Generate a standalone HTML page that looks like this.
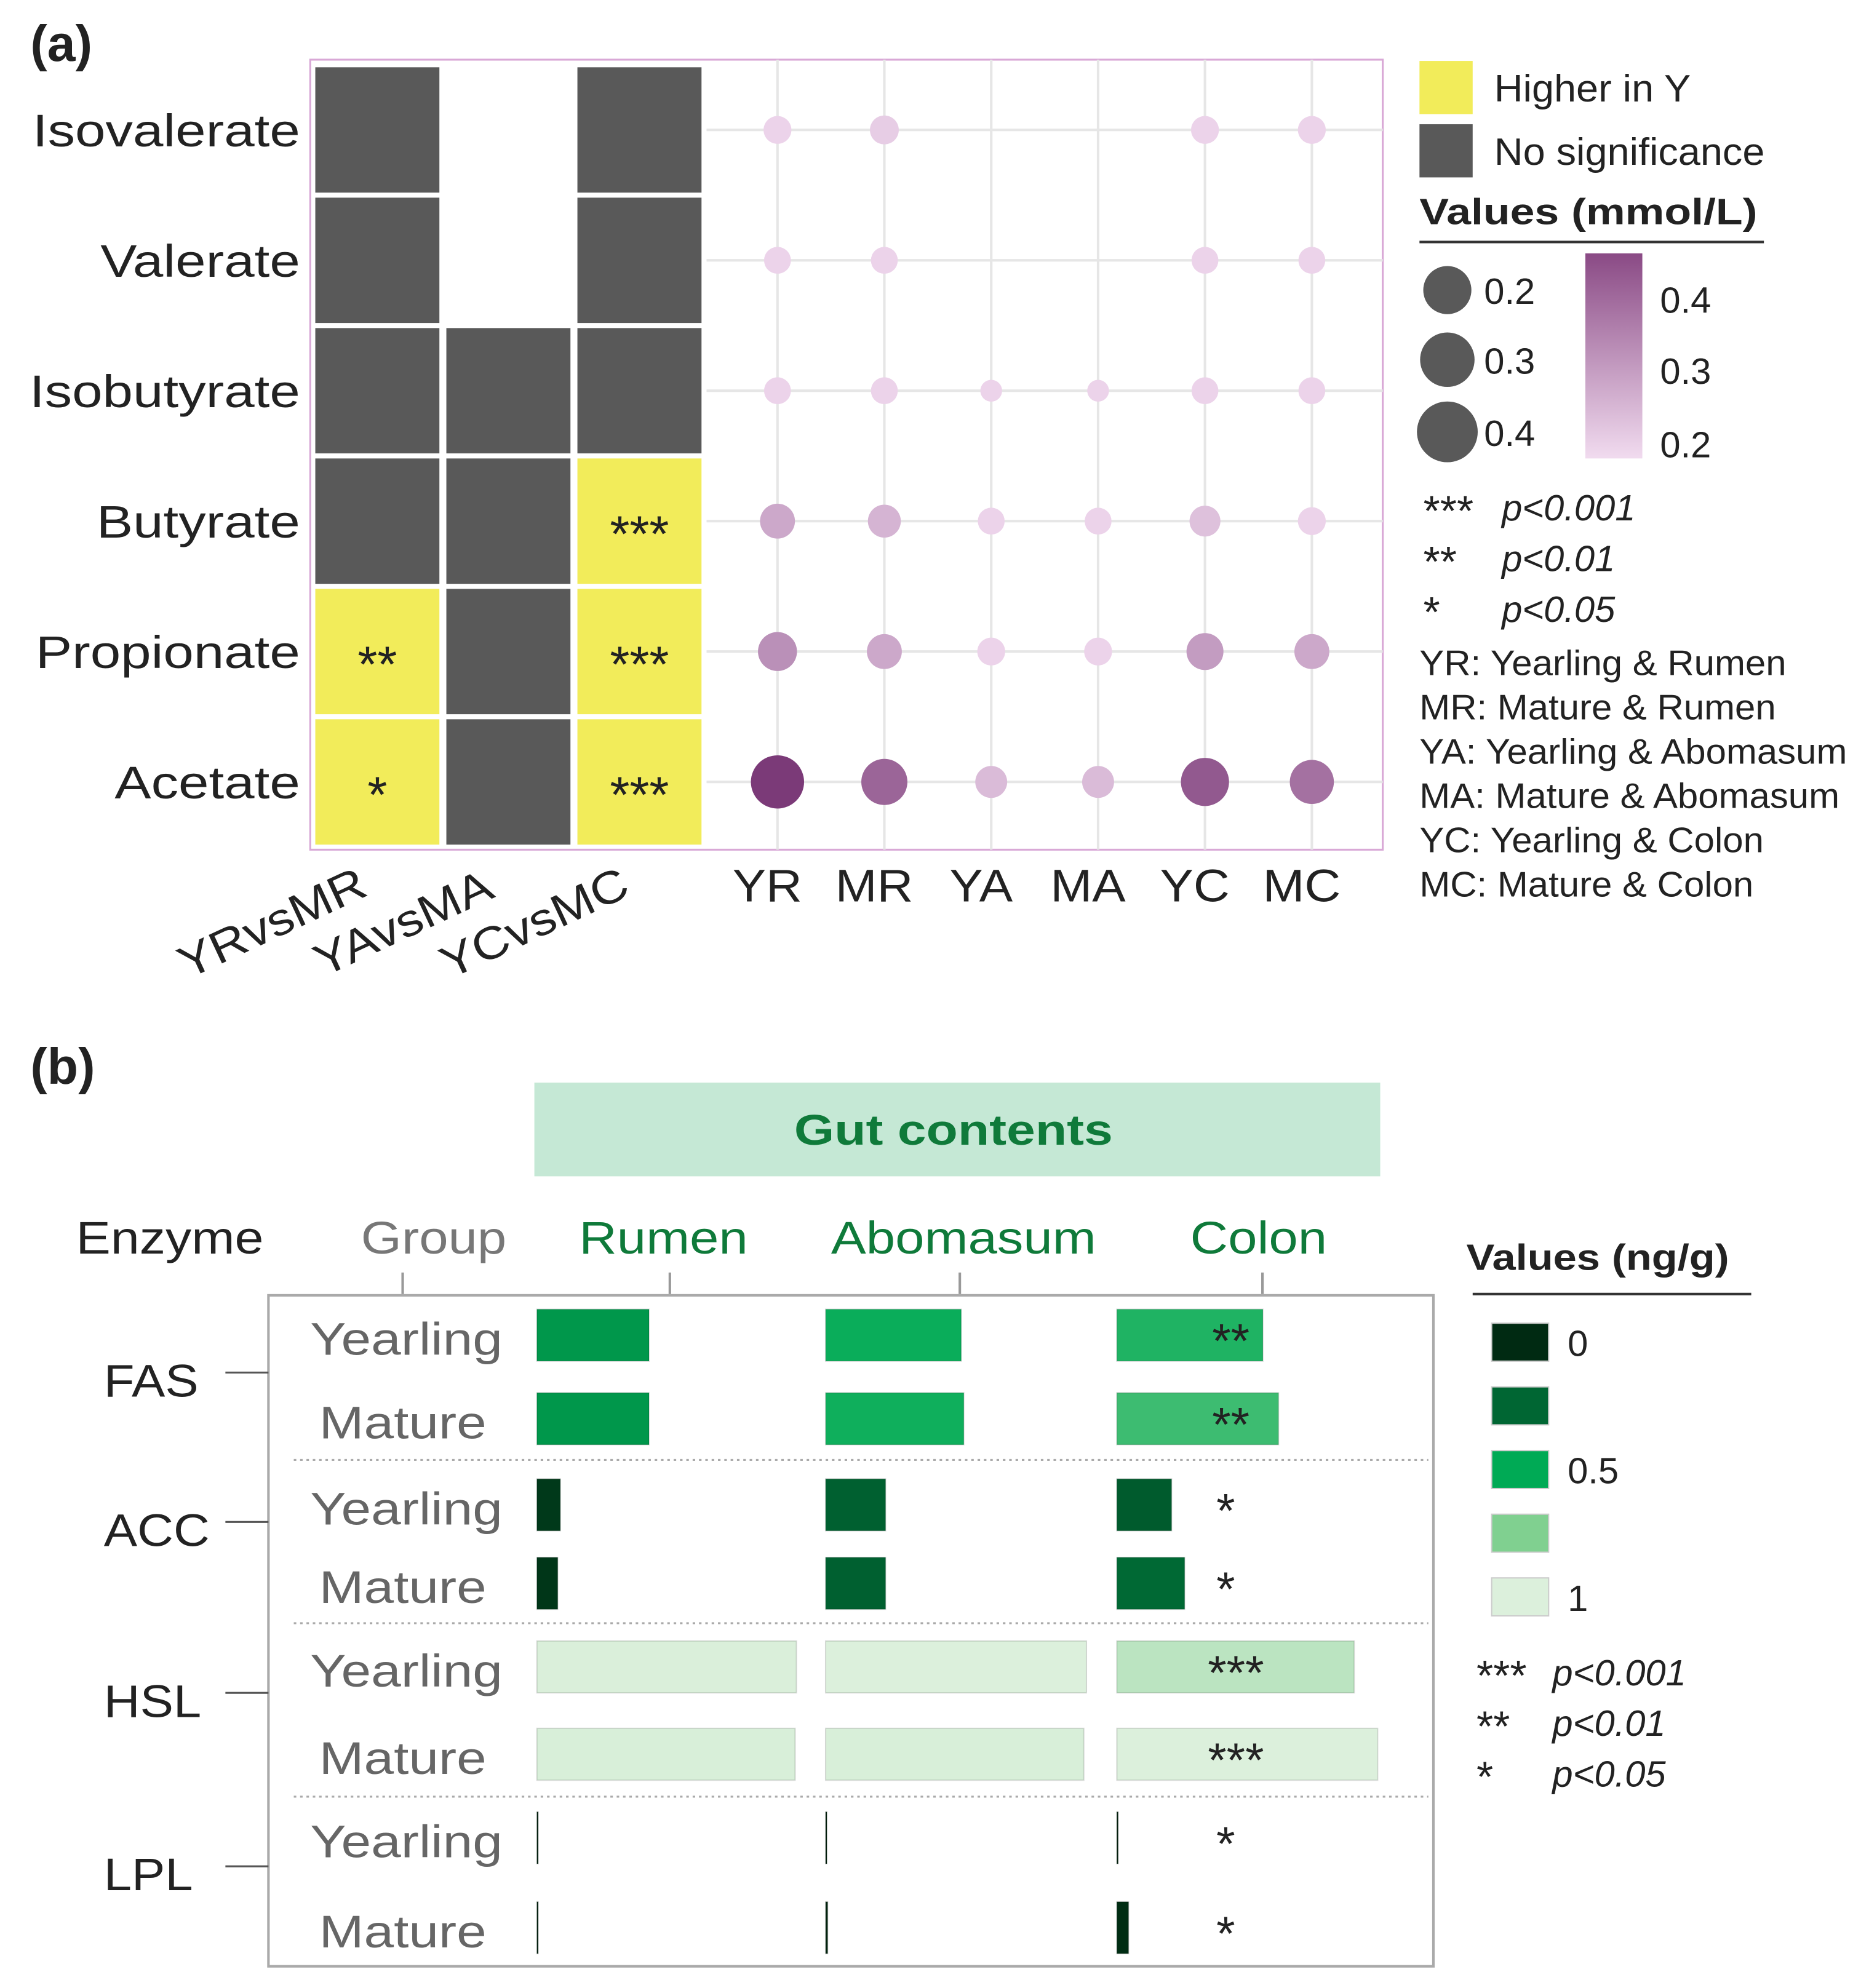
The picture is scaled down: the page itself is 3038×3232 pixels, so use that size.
<!DOCTYPE html>
<html><head><meta charset="utf-8"><style>
html,body{margin:0;padding:0;background:#fff}
svg{display:block}
text{font-family:"Liberation Sans",sans-serif;fill:#222}
</style></head><body>
<svg width="3038" height="3232" viewBox="0 0 1476 1570" xmlns="http://www.w3.org/2000/svg">
<g id="pa"></g>
<g id="pb"></g>
</svg>
<script>
// ---------- Panel (a) data ----------
const rowsA = ["Isovalerate","Valerate","Isobutyrate","Butyrate","Propionate","Acetate"];
const compCols = ["YRvsMR","YAvsMA","YCvsMC"];
// 0 = none, 1 = no significance, 2 = higher in Y
const compStatus = [[1,0,1],[1,0,1],[1,1,1],[1,1,2],[2,1,2],[2,1,2]];
const compStars = [["","",""],["","",""],["","",""],["","","***"],["**","","***"],["*","","***"]];
const dotCols = ["YR","MR","YA","MA","YC","MC"];
const dotVals = [
 [0.20,0.21,null,null,0.20,0.20],
 [0.19,0.19,null,null,0.19,0.19],
 [0.19,0.19,0.14,0.14,0.19,0.19],
 [0.27,0.25,0.19,0.19,0.23,0.20],
 [0.31,0.27,0.20,0.20,0.29,0.27],
 [0.45,0.38,0.24,0.24,0.40,0.36]];
// ---------- Panel (b) data ----------
const enzymes = ["FAS","ACC","HSL","LPL"];
const groups = ["Yearling","Mature"];
const sites = ["Rumen","Abomasum","Colon"];
const enzVals = [
 [[0.43,0.52,0.56],[0.43,0.53,0.62]],
 [[0.09,0.23,0.21],[0.08,0.23,0.26]],
 [[0.995,1.0,0.91],[0.99,0.99,1.0]],
 [[0.005,0.005,0.005],[0.005,0.008,0.045]]];
const enzStars = ["**","*","***","*"];

const NS="http://www.w3.org/2000/svg";
function mk(p,tag,a,txt){const e=document.createElementNS(NS,tag);for(const k in a)e.setAttribute(k,a[k]);if(txt!==undefined)e.textContent=txt;p.appendChild(e);return e;}
function lerpC(c1,c2,t){const a=[1,3,5].map(i=>parseInt(c1.substr(i,2),16)),b=[1,3,5].map(i=>parseInt(c2.substr(i,2),16));return "rgb("+a.map((v,i)=>Math.round(v+(b[i]-v)*t)).join(",")+")";}
function stretch(e,f){e.setAttribute('textLength',(e.getComputedTextLength()*f).toFixed(1));e.setAttribute('lengthAdjust','spacingAndGlyphs');}

// ---------- draw (a) ----------
const A=document.getElementById('pa');
let t=mk(A,'text',{x:24,y:48,'font-size':40,'font-weight':'bold'},'(a)');

let r=mk(A,'rect',{x:245,y:47,width:847,height:624,fill:'none',stroke:'#d9a8d6','stroke-width':1.5});

const rowY=i=>52+i*103;const rowH=101;
const compX=j=>248+j*103.5;
const dotX=j=>614+j*84.4;
const rowC=i=>rowY(i)+rowH/2;
for(let i=0;i<rowsA.length;i++){const l=mk(A,'line',{x1:558,x2:1092,y1:rowC(i),y2:rowC(i),stroke:'#e6e6e6','stroke-width':2});}
for(let j=0;j<dotCols.length;j++){const l=mk(A,'line',{x1:dotX(j),x2:dotX(j),y1:47,y2:671,stroke:'#e6e6e6','stroke-width':2});}
rowsA.forEach((n,i)=>{
  const lb=mk(A,'text',{x:237,y:rowC(i)+13,'font-size':36,'text-anchor':'end'},n);
  stretch(lb,1.2);
  
  compCols.forEach((c,j)=>{
    const s=compStatus[i][j];
    if(s){const c1=mk(A,'rect',{x:compX(j),y:rowY(i),width:100,height:rowH,fill:s===2?'#f2ec5a':'#595959',stroke:'#fff','stroke-width':2});
      }
    if(compStars[i][j]){const st=mk(A,'text',{x:compX(j)+50,y:rowC(i)+24,'font-size':40,'text-anchor':'middle'},compStars[i][j]);
      }
  });
  dotCols.forEach((c,j)=>{
    const v=dotVals[i][j];if(v==null)return;
    const tt=Math.max(0,Math.min(1,(v-0.2)/0.25));
    const d=mk(A,'circle',{cx:dotX(j),cy:rowC(i),r:3+40*v,fill:lerpC('#ecd3ea','#7b3a78',tt)});
    
  });
});
compCols.forEach((c,j)=>{const x=compX(j)-28,y=740;const l=mk(A,'text',{x:x,y:y,'font-size':36,'text-anchor':'middle',transform:`rotate(-25 ${x} ${y})`},c);
  stretch(l,1.12);
  });
dotCols.forEach((c,j)=>{const l=mk(A,'text',{x:dotX(j)-8,y:712,'font-size':36,'text-anchor':'middle'},c);
  stretch(l,1.1);
  });
// legend a
const LA=mk(A,'g',{});
[['#f2ec5a','Higher in Y',48],['#595959','No significance',98]].forEach(([c,s,y])=>{
 const q=mk(LA,'rect',{x:1121,y:y,width:42,height:42,fill:c});
 const tx=mk(LA,'text',{x:1180,y:y+32,'font-size':30},s);stretch(tx,1.05);});
t=mk(LA,'text',{x:1121,y:177,'font-size':29,'font-weight':'bold'},'Values (mmol/L)');stretch(t,1.2);
mk(LA,'line',{x1:1121,x2:1393,y1:191,y2:191,stroke:'#333','stroke-width':2});
[[0.2,229],[0.3,284],[0.4,341]].forEach(([v,y])=>{
 const c=mk(LA,'circle',{cx:1143,cy:y,r:19+(v-0.2)*25,fill:'#595959'});
 const tx=mk(LA,'text',{x:1172,y:y+11,'font-size':29},v.toFixed(1));});
const defs=mk(LA,'defs',{});const lg=mk(defs,'linearGradient',{id:'pg',x1:0,y1:0,x2:0,y2:1});
mk(lg,'stop',{offset:0,'stop-color':'#8a4a85'});mk(lg,'stop',{offset:1,'stop-color':'#f1dbef'});
t=mk(LA,'rect',{x:1252,y:200,width:45,height:162,fill:'url(#pg)'});
[['0.4',237],['0.3',293],['0.2',351]].forEach(([s,y])=>{const tx=mk(LA,'text',{x:1311,y:y+10,'font-size':29},s);});
[['***','p<0.001',401],['**','p<0.01',441],['*','p<0.05',481]].forEach(([s,p,y])=>{
 const a=mk(LA,'text',{x:1124,y:y+14,'font-size':34},s);
 const b=mk(LA,'text',{x:1186,y:y+10,'font-size':29,'font-style':'italic'},p);});
["YR: Yearling & Rumen","MR: Mature & Rumen","YA: Yearling & Abomasum","MA: Mature & Abomasum","YC: Yearling & Colon","MC: Mature & Colon"].forEach((s,i)=>{
 const a=mk(LA,'text',{x:1121,y:533+i*35,'font-size':28},s);stretch(a,1.04);});

// ---------- draw (b) ----------
const B=document.getElementById('pb');
t=mk(B,'text',{x:24,y:856,'font-size':40,'font-weight':'bold'},'(b)');
t=mk(B,'rect',{x:422,y:855,width:668,height:74,fill:'#c5e8d5'});
t=mk(B,'text',{x:753,y:904,'font-size':34,'font-weight':'bold','text-anchor':'middle',style:'fill:#0f7a3a'},'Gut contents');stretch(t,1.2);
t=mk(B,'text',{x:60,y:990,'font-size':36},'Enzyme');stretch(t,1.14);
t=mk(B,'text',{x:285,y:990,'font-size':36,style:'fill:#777'},'Group');stretch(t,1.15);
const siteX=[424,652,882];const siteLabX=[524,761,994];
sites.forEach((s,k)=>{const a=mk(B,'text',{x:siteLabX[k],y:990,'font-size':36,'text-anchor':'middle',style:'fill:#0f7a3a'},s);stretch(a,1.15);});
[318,529,758,997].forEach(x=>mk(B,'line',{x1:x,x2:x,y1:1005,y2:1022,stroke:'#999','stroke-width':2}));
t=mk(B,'rect',{x:212,y:1023,width:920,height:530,fill:'none',stroke:'#aaa','stroke-width':2});
const barTop=[[1034,1100],[1168,1230],[1296,1365],[1431,1502]];
const sepY=[1153,1282,1419];
sepY.forEach(y=>{const l=mk(B,'line',{x1:232,x2:1128,y1:y,y2:y,stroke:'#aaa','stroke-width':1.5,'stroke-dasharray':'2,3'});});
const xScale=v=>v*206;
const cStops=['#00200c','#006633','#00aa55','#80d090','#dcf0dc'];
function valColor(v){const p=Math.max(0,Math.min(1,v))*4;const i=Math.min(3,Math.floor(p));return lerpC(cStops[i],cStops[i+1],p-i);}
const enzLabY=[1090,1208,1343,1480];const starX=[972,968,976,968];
enzymes.forEach((e,i)=>{
  const a=mk(B,'text',{x:82,y:enzLabY[i]+13,'font-size':36},e);stretch(a,1.1);
  mk(B,'line',{x1:178,x2:212,y1:enzLabY[i]-6,y2:enzLabY[i]-6,stroke:'#555','stroke-width':1.5});
  groups.forEach((g,gi)=>{
    const y=barTop[i][gi];
    const gl=mk(B,'text',{x:gi?252:245,y:y+36,'font-size':36,style:'fill:#666'},g);stretch(gl,1.18);
    sites.forEach((s,k)=>{
      const v=enzVals[i][gi][k];
      const b=mk(B,'rect',{x:siteX[k],y:y,width:Math.max(1,xScale(v)),height:41,fill:valColor(v),stroke:'#00000022','stroke-width':1});
      
    });
    const st=mk(B,'text',{x:starX[i],y:y+38,'font-size':38,'text-anchor':'middle'},enzStars[i]);
  });
});
// legend b
const LB=mk(B,'g',{});
t=mk(LB,'text',{x:1158,y:1003,'font-size':29,'font-weight':'bold'},'Values (ng/g)');stretch(t,1.15);
mk(LB,'line',{x1:1163,x2:1383,y1:1022,y2:1022,stroke:'#333','stroke-width':2});
const legLabs=['0','','0.5','','1'];
cStops.forEach((c,i)=>{const y=1045+i*50.3;
 const q=mk(LB,'rect',{x:1178,y:y,width:45,height:30,fill:i===0?'#002a12':c,stroke:'#ccc','stroke-width':1});
 if(legLabs[i]){const tx=mk(LB,'text',{x:1238,y:y+26,'font-size':29},legLabs[i]);}});
[['***','p<0.001',1321],['**','p<0.01',1361],['*','p<0.05',1401]].forEach(([s,p,y])=>{
 const a=mk(LB,'text',{x:1166,y:y+14,'font-size':34},s);
 const b=mk(LB,'text',{x:1226,y:y+10,'font-size':29,'font-style':'italic'},p);});
</script>
</body></html>
